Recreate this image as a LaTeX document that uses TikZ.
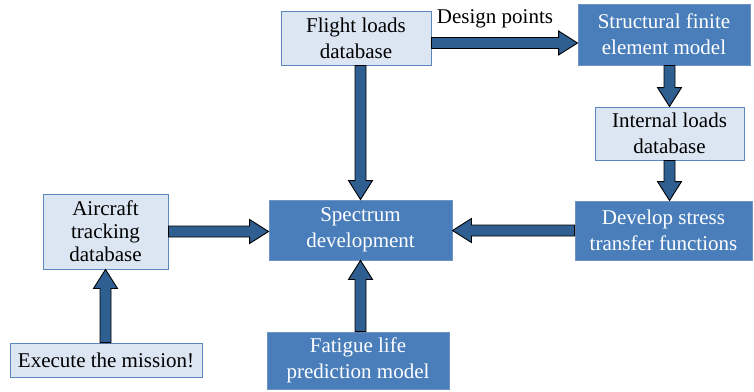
\documentclass[tikz,border=0pt]{standalone}
\usepackage{fontspec}
\setmainfont{Liberation Serif}
\usetikzlibrary{calc}
\definecolor{lightfill}{HTML}{DCE6F2}
\definecolor{lightdraw}{HTML}{5B87BF}
\definecolor{darkfill}{HTML}{4A7EBB}
\definecolor{darkdraw}{HTML}{6F93C4}
\definecolor{arrowfill}{HTML}{2F5F91}
\tikzset{
 box/.style={rectangle, inner sep=0pt, align=center, font=\fontsize{21}{26}\selectfont, line width=0.9pt},
 lightbox/.style={box, fill=lightfill, draw=lightdraw, text=black},
 darkbox/.style={box, fill=darkfill, draw=darkdraw, text=white},
 barrowstyle/.style={draw=black, fill=arrowfill, line width=0.9pt, line join=miter},
 lbl/.style={inner sep=0pt, font=\fontsize{21}{26}\selectfont}
}
\newcommand{\blockarrow}[2]{%
 \coordinate (ba-s) at (#1);
 \coordinate (ba-e) at (#2);
 \coordinate (ba-h) at ($(ba-e)!19pt!(ba-s)$);
 \path[barrowstyle] ($(ba-s)!5.5pt!90:(ba-e)$) -- ($(ba-h)!5.5pt!-90:(ba-s)$) -- ($(ba-h)!12pt!-90:(ba-s)$) -- (ba-e) -- ($(ba-h)!12pt!90:(ba-s)$) -- ($(ba-h)!5.5pt!90:(ba-s)$) -- ($(ba-s)!5.5pt!-90:(ba-e)$) -- cycle;}
\begin{document}
\begin{tikzpicture}[x=1pt, y=-1pt]
\useasboundingbox (0,0) rectangle (754,391);
\node[lightbox, minimum width=150pt, minimum height=54pt] (flight) at (356,38) {Flight loads\\database};
\node[darkbox, minimum width=172pt, minimum height=61pt] (sfem) at (664,34.5) {Structural finite\\element model};
\node[lightbox, minimum width=149pt, minimum height=53pt] (internal) at (669.5,133.5) {Internal loads\\database};
\node[darkbox, minimum width=177pt, minimum height=59pt] (develop) at (663.5,230.5) {Develop stress\\transfer functions};
\node[darkbox, minimum width=183pt, minimum height=60pt] (spectrum) at (360.5,230) {Spectrum\\development};
\node[darkbox, minimum width=182pt, minimum height=57pt] (fatigue) at (358,360.5) {Fatigue life\\prediction model};
\node[lightbox, minimum width=125pt, minimum height=75pt, font=\fontsize{21}{23}\selectfont] (aircraft) at (105.5,231.5) {Aircraft\\tracking\\database};
\node[lightbox, minimum width=192pt, minimum height=34pt] (execute) at (106,360) {Execute the mission!};
\node[lbl] (dp) at (495,19) {Design points};
\coordinate (d1) at ($(flight.east)+(0,5)$);
\blockarrow{d1}{d1 -| sfem.west}
\blockarrow{flight.south -| spectrum.north}{spectrum.north}
\blockarrow{sfem.south -| internal.north}{internal.north}
\blockarrow{internal.south}{internal.south |- develop.north}
\blockarrow{develop.west}{develop.west -| spectrum.east}
\blockarrow{aircraft.east}{aircraft.east -| spectrum.west}
\blockarrow{execute.north -| aircraft.south}{aircraft.south}
\blockarrow{fatigue.north -| spectrum.south}{spectrum.south}
\end{tikzpicture}
\end{document}
